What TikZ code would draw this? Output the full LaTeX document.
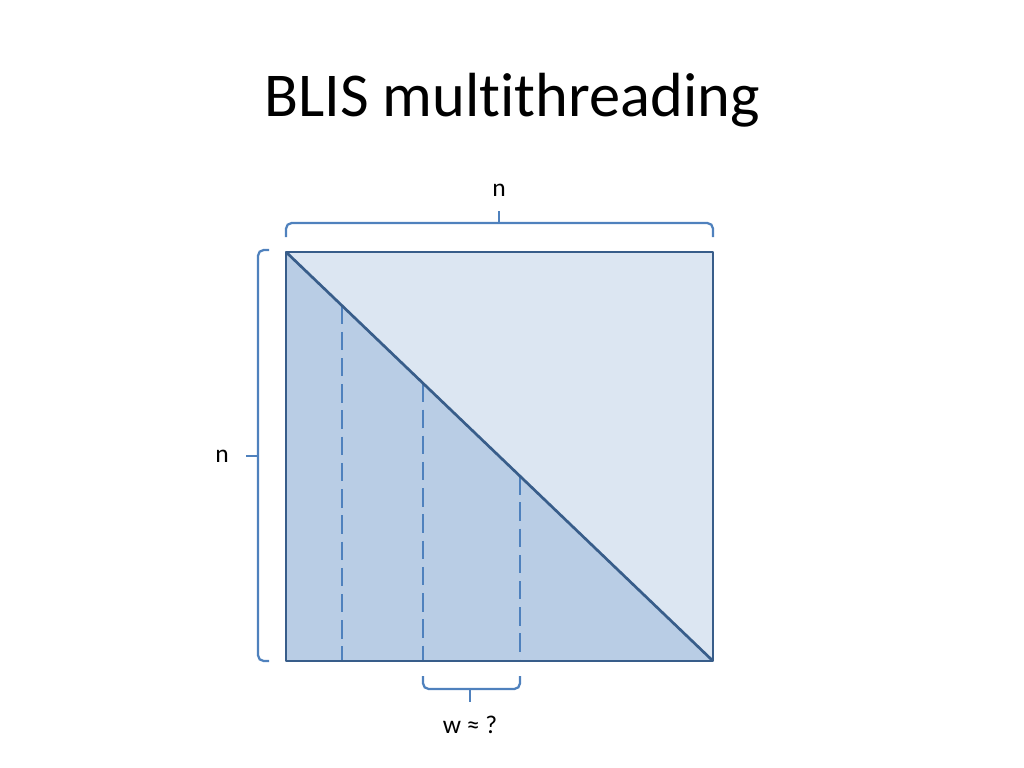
\documentclass[tikz,border=0pt]{standalone}
\usepackage{fontspec}
\setmainfont[RawFeature={-liga,-calt,-clig,-dlig}]{Carlito}
\usetikzlibrary{positioning, calc}
\definecolor{upperfill}{HTML}{DCE6F2}
\definecolor{lowerfill}{HTML}{B9CDE5}
\definecolor{edgeblue}{HTML}{385D8A}
\definecolor{sliceblue}{HTML}{4F81BD}
\begin{document}
\begin{tikzpicture}[x=0.0248cm, y=-0.0248cm,
        block/.style={draw=edgeblue, line width=1.9pt, line join=round},
        slice/.style={draw=sliceblue, line width=1.6pt, dash pattern=on 13pt off 5.5pt},
        brace/.style={draw=sliceblue, line width=1.6pt, rounded corners=4pt},
        dimlabel/.style={font=\fontsize{18}{20}\selectfont}
    ]
    \useasboundingbox (0,0) rectangle (1024,768);
    % Title
    \node[anchor=base, font=\fontsize{44}{50}\selectfont] (title) at (512,117) {BLIS multit\kern0pt hreading};
    % Matrix corners
    \coordinate (tl) at (286,252);
    \coordinate (tr) at (713,252);
    \coordinate (bl) at (286,661);
    \coordinate (br) at (713,661);
    % Triangles
    \fill[upperfill] (tl) -- (tr) -- (br) -- cycle;
    \fill[lowerfill] (tl) -- (bl) -- (br) -- cycle;
    % Slices
    \coordinate (s1) at ($(tl)!0.131!(br)$);
    \coordinate (s2) at ($(tl)!0.321!(br)$);
    \coordinate (s3) at ($(tl)!0.548!(br)$);
    \draw[slice] (s1) -- (s1 |- br);
    \draw[slice] (s2) -- (s2 |- br);
    \draw[slice] (s3) -- (s3 |- br);
    % Outline
    \draw[block] (tl) rectangle (br);
    \draw[block] (tl) -- (br);
    % Top brace
    \draw[brace] (286,237) -- (286,223) -- (713,223) -- (713,237);
    \draw[brace] (499,223) -- (499,211);
    \node[dimlabel] (ntop) at (499,190) {n};
    % Left brace
    \draw[brace] (269,250) -- (258,250) -- (258,661) -- (269,661);
    \draw[brace] (258,456) -- (246,456);
    \node[dimlabel] (nleft) at (222,456) {n};
    % Bottom brace
    \draw[brace] (423,676) -- (423,689) -- (520,689) -- (520,676);
    \draw[brace] (470,689) -- (470,702);
    \node[dimlabel] (wlabel) at (470,725) {w ≈ ?};
\end{tikzpicture}
\end{document}
